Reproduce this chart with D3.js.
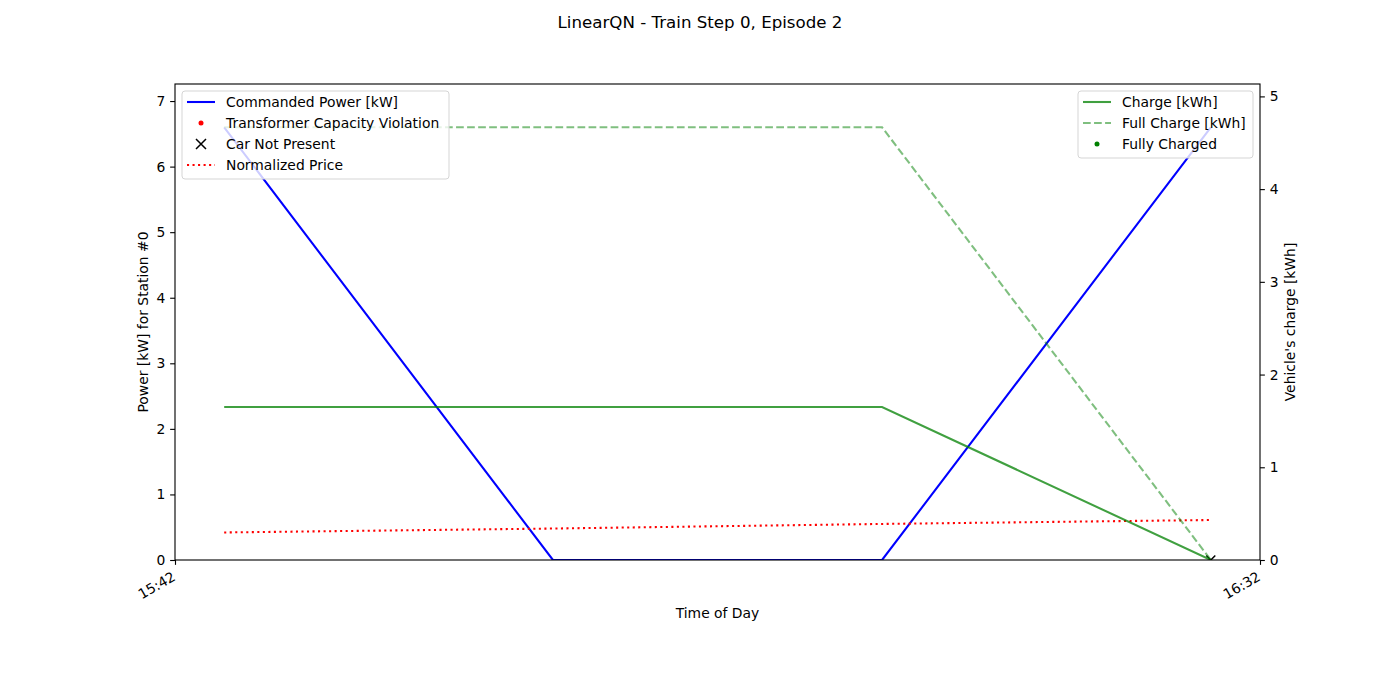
<!DOCTYPE html>
<html><head><meta charset="utf-8">
<script src="https://cdn.jsdelivr.net/npm/d3@7"></script>
<style>body{margin:0;background:#fff}svg{display:block}text{font-family:"DejaVu Sans",sans-serif}</style>
</head><body><svg id="c" width="1400" height="700"></svg>
<script>
const timeLabels = ["15:44:16", "15:59:25", "16:14:35", "16:29:44"];
const commandedPower = [6.6, 0, 0, 6.6];
const normalizedPrice = [0.42, 0.48, 0.55, 0.61];
const charge = [1.65, 1.65, 1.65, 0];
const fullCharge = [4.667, 4.667, 4.667, 0];
const carNotPresentIdx = [3];
const xTickLabels = ["15:42", "16:32"];
const leftTicks = [0,1,2,3,4,5,6,7];
const rightTicks = [0,1,2,3,4,5];

const parse = d3.timeParse("%H:%M:%S");
const times = timeLabels.map(parse);
const xTicks = xTickLabels.map(d3.timeParse("%H:%M"));

const svg = d3.select("#c");
const L=175,R=1260,T=84,B=560;
const x = d3.scaleTime().domain([xTicks[0], xTicks[1]]).range([L,R]);
const y = d3.scaleLinear().domain([0, 6.6*1.1]).range([B,T]);
const y2 = d3.scaleLinear().domain([0, 4.667*1.1]).range([B,T]);
const pt = 100/72;

svg.append("defs").append("clipPath").attr("id","clip").append("rect")
  .attr("x",L).attr("y",T).attr("width",R-L).attr("height",B-T);

const g = svg.append("g").attr("clip-path","url(#clip)");
const line = (ys, sc) => d3.line().x((d,i)=>x(times[i])).y(d=>sc(d))(ys);

g.append("path").attr("d", line(commandedPower, y)).attr("fill","none").attr("stroke","#0000ff").attr("stroke-width",1.5*pt);
g.append("path").attr("d", line(normalizedPrice, y)).attr("fill","none").attr("stroke","#ff0000").attr("stroke-width",1.5*pt)
  .attr("stroke-dasharray",`${1.5*pt},${2.475*pt}`);
g.selectAll(".x").data(carNotPresentIdx).enter().append("path")
  .attr("d", i => { const cx=x(times[i]), cy=y(0), s=4.5; return `M${cx-s},${cy-s}L${cx+s},${cy+s}M${cx-s},${cy+s}L${cx+s},${cy-s}`; })
  .attr("stroke","#000").attr("stroke-width",1.5);

const g2 = svg.append("g").attr("clip-path","url(#clip)");
g2.append("path").attr("d", line(charge, y2)).attr("fill","none").attr("stroke","#008000").attr("stroke-opacity",0.75).attr("stroke-width",1.5*pt);
g2.append("path").attr("d", line(fullCharge, y2)).attr("fill","none").attr("stroke","#008000").attr("stroke-opacity",0.5).attr("stroke-width",1.5*pt)
  .attr("stroke-dasharray",`${5.55*pt},${2.4*pt}`);

// axes
const fs = 10*pt;
const ax = svg.append("g").attr("transform",`translate(0,${B})`).call(d3.axisBottom(x).tickValues(xTicks).tickFormat(d3.timeFormat("%H:%M")).tickSize(3.5*pt).tickPadding(3));
ax.selectAll("text").attr("font-size",fs).attr("text-anchor","end").attr("dy",null).attr("dominant-baseline","middle")
  .attr("transform","translate(-1,16) rotate(-30)").attr("y",0).attr("x",0).attr("fill","#000");
const ayl = svg.append("g").attr("transform",`translate(${L},0)`).call(d3.axisLeft(y).tickValues(leftTicks).tickFormat(d3.format("d")).tickSize(3.5*pt).tickPadding(3.5*pt));
ayl.selectAll("text").attr("font-size",fs).attr("fill","#000");
const ayr = svg.append("g").attr("transform",`translate(${R},0)`).call(d3.axisRight(y2).tickValues(rightTicks).tickFormat(d3.format("d")).tickSize(3.5*pt).tickPadding(3.5*pt));
ayr.selectAll("text").attr("font-size",fs).attr("fill","#000");
svg.selectAll(".domain").remove();
svg.selectAll(".tick line").attr("stroke","#000").attr("stroke-width",0.8*pt);
svg.append("rect").attr("x",L).attr("y",T).attr("width",R-L).attr("height",B-T).attr("fill","none").attr("stroke","#000").attr("stroke-width",0.8*pt);

// labels
svg.append("text").attr("x",700).attr("y",28).attr("text-anchor","middle").attr("font-size",12*pt).text("LinearQN - Train Step 0, Episode 2");
svg.append("text").attr("x",(L+R)/2).attr("y",618).attr("text-anchor","middle").attr("font-size",fs).text("Time of Day");
svg.append("text").attr("transform",`translate(148,${(T+B)/2}) rotate(-90)`).attr("text-anchor","middle").attr("font-size",fs).text("Power [kW] for Station #0");
svg.append("text").attr("transform",`translate(1295,${(T+B)/2}) rotate(-90)`).attr("text-anchor","middle").attr("font-size",fs).text("Vehicle's charge [kWh]");

// legends
function legend(x0, y0, w, items) {
  const lg = svg.append("g");
  const rowH = 21, h = items.length*rowH + 4;
  lg.append("rect").attr("x",x0).attr("y",y0).attr("width",w).attr("height",h).attr("rx",3)
    .attr("fill","#fff").attr("fill-opacity",0.8).attr("stroke","#d5d5d5").attr("stroke-width",1);
  items.forEach((it,i) => {
    const cy = y0 + 11 + i*rowH;
    const hx0 = x0+5, hx1 = x0+33, hm = (hx0+hx1)/2;
    if (it.type==="line") lg.append("line").attr("x1",hx0).attr("x2",hx1).attr("y1",cy).attr("y2",cy)
      .attr("stroke",it.color).attr("stroke-opacity",it.op||1).attr("stroke-width",1.5*pt).attr("stroke-dasharray",it.dash||null);
    if (it.type==="dot") lg.append("circle").attr("cx",hm).attr("cy",cy).attr("r",2.5).attr("fill",it.color);
    if (it.type==="x") { const s=5; lg.append("path").attr("d",`M${hm-s},${cy-s}L${hm+s},${cy+s}M${hm-s},${cy+s}L${hm+s},${cy-s}`).attr("stroke","#000").attr("stroke-width",1.5); }
    lg.append("text").attr("x",x0+44).attr("y",cy).attr("dominant-baseline","central").attr("font-size",fs).text(it.label);
  });
}
legend(182, 91, 267, [
  {type:"line", color:"#0000ff", label:"Commanded Power [kW]"},
  {type:"dot", color:"#ff0000", label:"Transformer Capacity Violation"},
  {type:"x", label:"Car Not Present"},
  {type:"line", color:"#ff0000", dash:`${1.5*pt},${2.475*pt}`, label:"Normalized Price"}
]);
legend(1078, 91, 175, [
  {type:"line", color:"#008000", op:0.75, label:"Charge [kWh]"},
  {type:"line", color:"#008000", op:0.5, dash:`${5.55*pt},${2.4*pt}`, label:"Full Charge [kWh]"},
  {type:"dot", color:"#008000", label:"Fully Charged"}
]);
</script></body></html>
